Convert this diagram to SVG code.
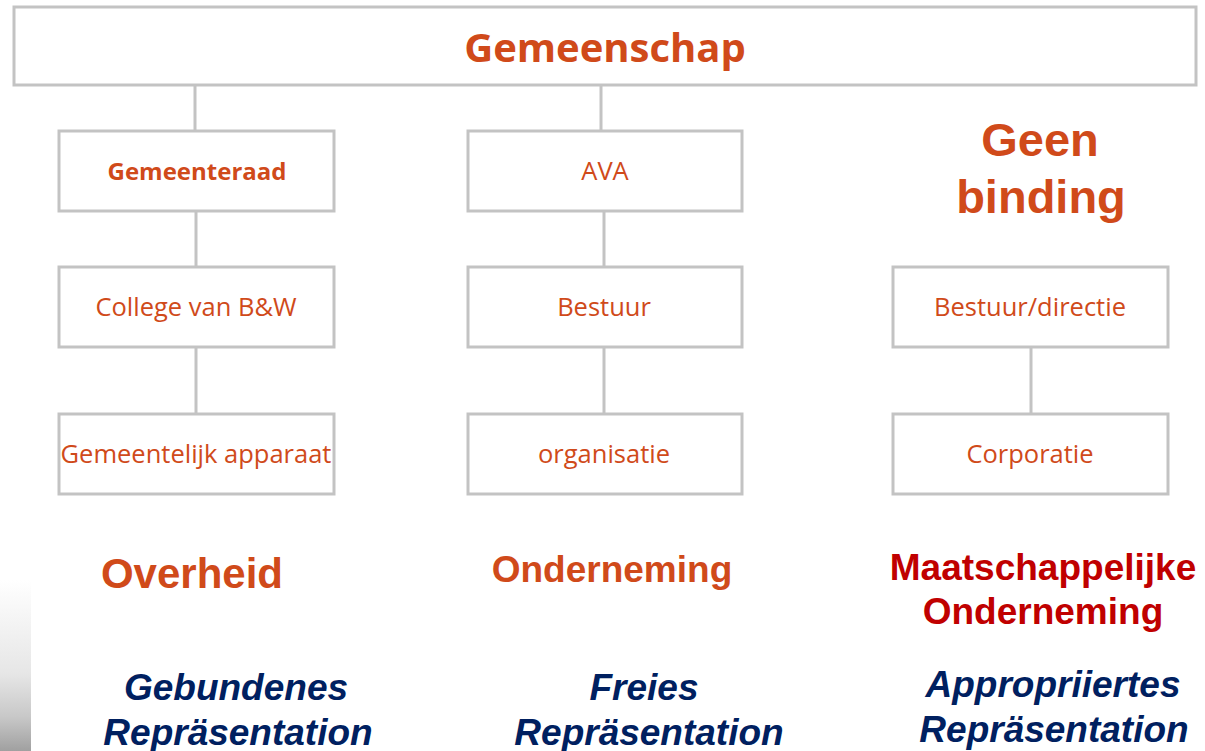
<svg xmlns="http://www.w3.org/2000/svg" width="1205" height="751" viewBox="0 0 1205 751">
<style>
.box{fill:#fff;stroke:#c3c3c3;stroke-width:3}
.conn line{stroke:#c3c3c3;stroke-width:3}
.bt{font-family:"Open Sans","Noto Sans",sans-serif;font-size:25.5px;fill:#d04a1a;text-anchor:middle}
.bb{font-weight:bold;font-size:24px}
.ttl{font-family:"Open Sans","Noto Sans",sans-serif;font-size:40px;font-weight:bold;fill:#d04a1a;text-anchor:middle}
.big{font-family:"Liberation Sans",Arial,sans-serif;font-weight:bold;text-anchor:middle}
.or{fill:#d04a1a}
.rd{fill:#c00000}
.bl{fill:#002060;font-style:italic;font-size:37px}
</style>
<defs>
<linearGradient id="bg" x1="0" y1="0" x2="0" y2="1">
<stop offset="0" stop-color="#fff"/>
<stop offset="0.55" stop-color="#e6e6e6"/>
<stop offset="0.8" stop-color="#c8c8c8"/>
<stop offset="1" stop-color="#a0a0a0"/>
</linearGradient>
</defs>
<rect width="1205" height="751" fill="#fff"/>
<rect x="0" y="580" width="31" height="171" fill="url(#bg)"/>
<g class="conn">
<line x1="195" y1="85" x2="195" y2="131"/>
<line x1="196" y1="211" x2="196" y2="267"/>
<line x1="196" y1="347" x2="196" y2="414"/>
<line x1="601" y1="85" x2="601" y2="131"/>
<line x1="604" y1="211" x2="604" y2="267"/>
<line x1="604" y1="347" x2="604" y2="414"/>
<line x1="1031" y1="347" x2="1031" y2="414"/>
</g>
<g id="gemeenschap"><rect class="box" x="14" y="7" width="1182" height="78"/><text class="ttl" x="605" y="62">Gemeenschap</text></g>
<g id="gemeenteraad"><rect class="box" x="59" y="131" width="275" height="80"/><text class="bt bb" x="197" y="180">Gemeenteraad</text></g>
<g id="college"><rect class="box" x="59" y="267" width="275" height="80"/><text class="bt" x="196" y="316">College van B&amp;W</text></g>
<g id="apparaat"><rect class="box" x="59" y="414" width="275" height="80"/><text class="bt" x="196" y="463">Gemeentelijk apparaat</text></g>
<g id="ava"><rect class="box" x="468" y="131" width="274" height="80"/><text class="bt" x="605" y="180">AVA</text></g>
<g id="bestuur"><rect class="box" x="468" y="267" width="274" height="80"/><text class="bt" x="604" y="316">Bestuur</text></g>
<g id="organisatie"><rect class="box" x="468" y="414" width="274" height="80"/><text class="bt" x="604" y="463">organisatie</text></g>
<g id="geenbinding"><text class="big or" x="1040" y="156" font-size="47">Geen</text><text class="big or" x="1041" y="213" font-size="47">binding</text></g>
<g id="bestuurdirectie"><rect class="box" x="893" y="267" width="275" height="80"/><text class="bt" x="1030" y="316">Bestuur/directie</text></g>
<g id="corporatie"><rect class="box" x="893" y="414" width="275" height="80"/><text class="bt" x="1030" y="463">Corporatie</text></g>
<g id="overheid"><text class="big or" x="192" y="588" font-size="42">Overheid</text></g>
<g id="onderneming"><text class="big or" x="612" y="582" font-size="37">Onderneming</text></g>
<g id="maatschappelijk"><text class="big rd" x="1043" y="580" font-size="37">Maatschappelijke</text><text class="big rd" x="1043" y="624" font-size="37">Onderneming</text></g>
<g id="gebundenes"><text class="big bl" x="236" y="700">Gebundenes</text><text class="big bl" x="238" y="745">Repräsentation</text></g>
<g id="freies"><text class="big bl" x="644" y="700">Freies</text><text class="big bl" x="649" y="745">Repräsentation</text></g>
<g id="appropriiertes"><text class="big bl" x="1053" y="697">Appropriiertes</text><text class="big bl" x="1054" y="742">Repräsentation</text></g>
</svg>
